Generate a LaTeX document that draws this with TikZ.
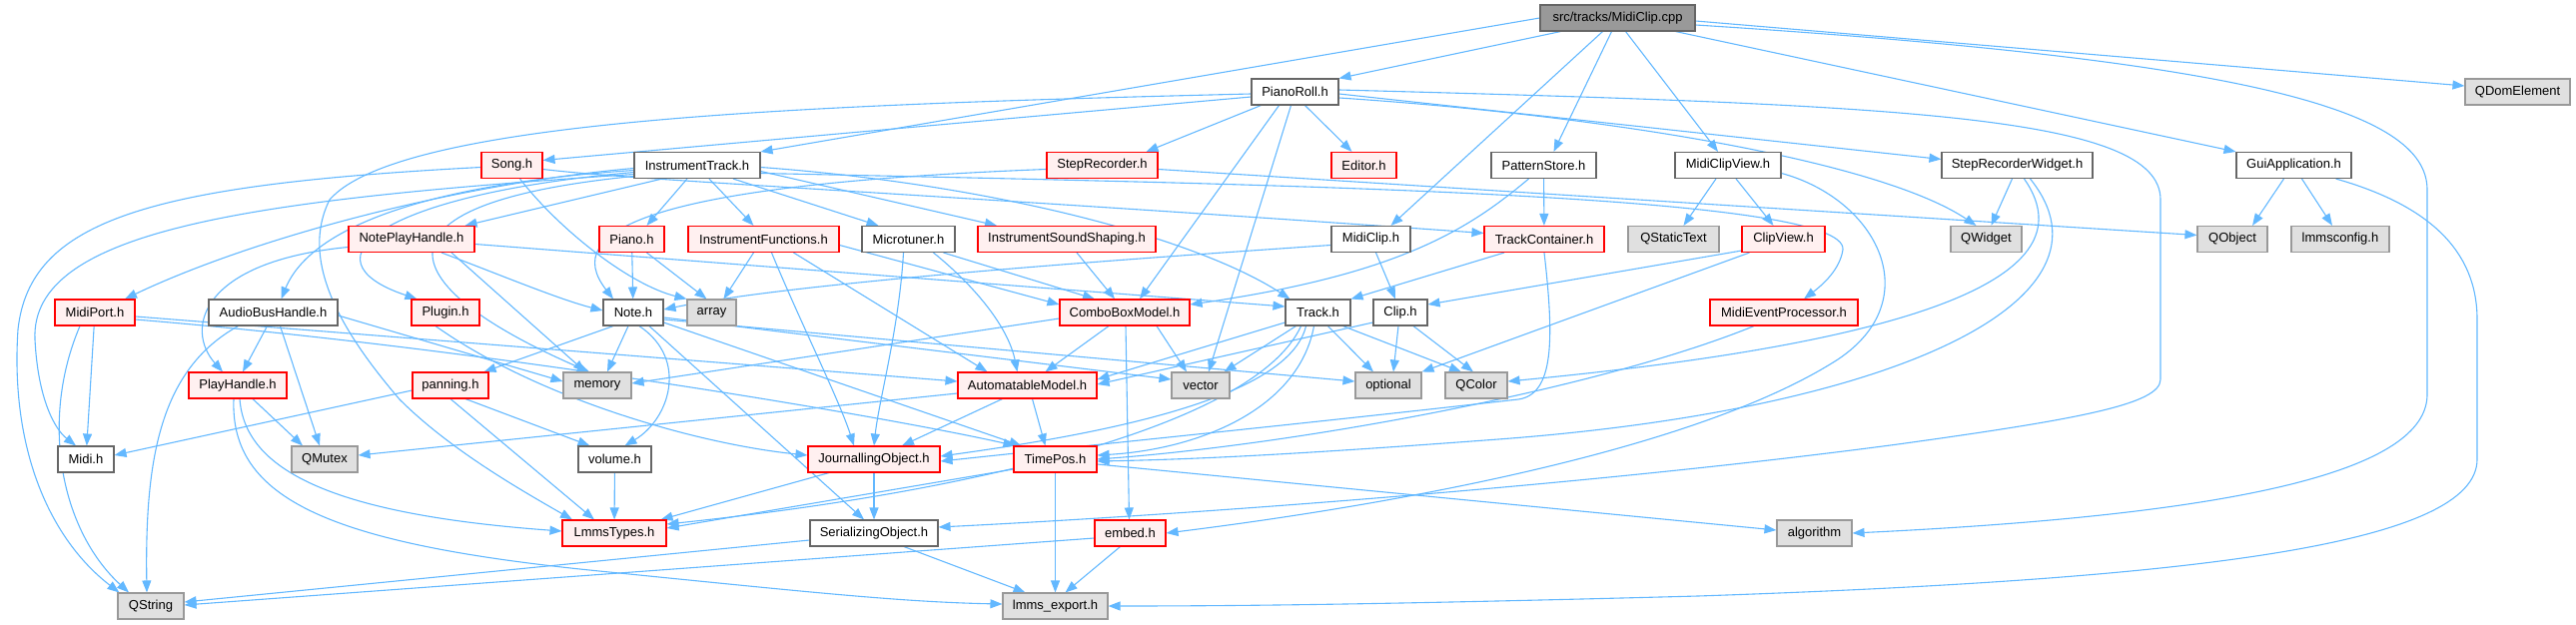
\documentclass[tikz,border=0pt]{standalone}
\usepackage{fontspec}
\setmainfont{Liberation Sans}
\usetikzlibrary{arrows.meta,calc}
\definecolor{edgec}{HTML}{63B8FF}
\definecolor{redfill}{HTML}{FFF0F0}
\definecolor{grayfill}{HTML}{E0E0E0}
\definecolor{grayline}{HTML}{999999}
\definecolor{darkline}{HTML}{666666}
\definecolor{rootfill}{HTML}{999999}
\pgfdeclarelayer{bg}
\pgfsetlayers{bg,main}
\newcommand\nd[6]{\node[#2, minimum width={#4-#3}] (#1) at ({(#3+#4)/2},{-#5}) {#6};}
\begin{document}
\begin{tikzpicture}[x=1pt,y=1pt,
  box/.style={rectangle, inner sep=0pt, minimum height=26pt, line width=1.1pt, font=\fontsize{13}{15}\selectfont, text=black},
  wn/.style={box, draw=darkline, fill=white},
  rn/.style={box, draw=red, fill=redfill},
  gn/.style={box, draw=grayline, fill=grayfill},
  rootn/.style={box, draw=darkline, fill=rootfill},
  e/.style={draw=edgec, line width=1.1pt, -{Triangle[length=12pt,width=9pt]}}]
\useasboundingbox (0,0) rectangle (2579,-626);
% row 0
\nd{cpp}{rootn}{1542}{1697}{18}{src/tracks/MidiClip.cpp}
% row 1
\nd{piano}{wn}{1253}{1340}{92}{PianoRoll.h}
\nd{qdom}{gn}{2468}{2573}{92}{QDomElement}
% row 2
\nd{song}{rn}{482}{543}{165.5}{Song.h}
\nd{itrack}{wn}{635}{761}{165.5}{InstrumentTrack.h}
\nd{steprec}{rn}{1048}{1159}{165.5}{StepRecorder.h}
\nd{editor}{rn}{1333}{1398}{165.5}{Editor.h}
\nd{pstore}{wn}{1493}{1598}{165.5}{PatternStore.h}
\nd{mcview}{wn}{1677}{1783}{165.5}{MidiClipView.h}
\nd{srw}{wn}{1944}{2095}{165.5}{StepRecorderWidget.h}
\nd{gui}{wn}{2239}{2354}{165.5}{GuiApplication.h}
% row 3
\nd{nph}{rn}{349}{475}{239.5}{NotePlayHandle.h}
\nd{pianoh}{rn}{600}{665}{239.5}{Piano.h}
\nd{ifunc}{rn}{689}{840}{239.5}{InstrumentFunctions.h}
\nd{micro}{wn}{863}{956}{239.5}{Microtuner.h}
\nd{iss}{rn}{979}{1157}{239.5}{InstrumentSoundShaping.h}
\nd{mclip}{wn}{1333}{1412}{239.5}{MidiClip.h}
\nd{tcont}{rn}{1486}{1606}{239.5}{TrackContainer.h}
\nd{qstatic}{gn}{1630}{1721}{239.5}{QStaticText}
\nd{cview}{rn}{1744}{1827}{239.5}{ClipView.h}
\nd{qwidget}{gn}{1953}{2024}{239.5}{QWidget}
\nd{qobject}{gn}{2200}{2270}{239.5}{QObject}
\nd{lcfg}{gn}{2294}{2392}{239.5}{lmmsconfig.h}
% row 4
\nd{mport}{rn}{55}{135}{313}{MidiPort.h}
\nd{abh}{wn}{209}{338}{313}{AudioBusHandle.h}
\nd{plugin}{rn}{412}{480}{313}{Plugin.h}
\nd{note}{wn}{604}{664}{313}{Note.h}
\nd{array}{gn}{688}{737}{313}{array}
\nd{cbm}{rn}{1061}{1191}{313}{ComboBoxModel.h}
\nd{track}{wn}{1287}{1352}{313}{Track.h}
\nd{clip}{wn}{1375}{1429}{313}{Clip.h}
\nd{mep}{rn}{1712}{1860}{313}{MidiEventProcessor.h}
% row 5
\nd{phandle}{rn}{189}{287}{386}{PlayHandle.h}
\nd{panning}{rn}{413}{489}{386}{panning.h}
\nd{memory}{gn}{564}{632}{386}{memory}
\nd{amodel}{rn}{959}{1098}{386}{AutomatableModel.h}
\nd{vector}{gn}{1173}{1231}{386}{vector}
\nd{optional}{gn}{1357}{1423}{386}{optional}
\nd{qcolor}{gn}{1447}{1509}{386}{QColor}
% row 6
\nd{midi}{wn}{58}{114}{460}{Midi.h}
\nd{qmutex}{gn}{292}{358}{460}{QMutex}
\nd{volume}{wn}{579}{652}{460}{volume.h}
\nd{jobj}{rn}{809}{941}{460}{JournallingObject.h}
\nd{timepos}{rn}{1015}{1098}{460}{TimePos.h}
% row 7
\nd{ltypes}{rn}{563}{667}{534}{LmmsTypes.h}
\nd{sobj}{wn}{811}{939}{534}{SerializingObject.h}
\nd{embed}{rn}{1096}{1167}{534}{embed.h}
\nd{algo}{gn}{1779}{1854}{534}{algorithm}
% row 8
\nd{qstring}{gn}{118}{184}{607}{QString}
\nd{lexport}{gn}{1004}{1109}{607}{lmms\_export.h}

\begin{pgfonlayer}{bg}
% root
\draw[e] ([xshift=-57pt]cpp.south) -- (piano.north east);
\draw[e] (cpp.west) -- (itrack.north east);
\draw[e] ([xshift=-15pt]cpp.south) -- ([xshift=20pt]mclip.north);
\draw[e] ([xshift=-6pt]cpp.south) -- ([xshift=10pt]pstore.north);
\draw[e] ([xshift=8pt]cpp.south) -- ([xshift=-10pt]mcview.north);
\draw[e] ([xshift=-20pt]cpp.south east) -- (gui.north west);
\draw[e] ([yshift=-3pt]cpp.east) -- ([yshift=6pt]qdom.west);
\draw[e] ([yshift=-7pt]cpp.east) .. controls (2250,-60) and (2430,-110) .. (2430,-190) -- (2430,-395) .. controls (2430,-470) and (2250,-515) .. (algo.east);
% PianoRoll
\draw[e] ([yshift=-5pt]piano.west) -- ([yshift=5pt]song.east);
\draw[e] ([xshift=10pt]piano.south west) -- ([xshift=-12pt]steprec.north east);
\draw[e] ([xshift=10pt]piano.south) -- ([xshift=-12pt]editor.north);
\draw[e] ([xshift=-16pt]piano.south) -- ([xshift=15pt]cbm.north);
\draw[e] ([xshift=-4pt]piano.south) -- ([xshift=8pt]vector.north);
\draw[e] ([yshift=-2pt]piano.east) -- ([yshift=6pt]srw.west);
\draw[e] ([yshift=-6pt]piano.east) .. controls (1600,-115) and (1880,-160) .. ([xshift=-10pt]qwidget.north);
\draw[e] ([yshift=2pt]piano.east) .. controls (1900,-105) and (2163,-115) .. (2163,-200) -- (2163,-380) .. controls (2163,-405) and (2080,-420) .. (1900,-445) .. controls (1600,-485) and (1200,-515) .. ([yshift=6pt]sobj.east);
\draw[e] ([yshift=-2pt]piano.west) .. controls (800,-105) and (400,-120) .. (330,-200) .. controls (300,-260) and (340,-330) .. (400,-400) .. controls (450,-450) and (520,-490) .. ([xshift=-42pt]ltypes.north);
% Song
\draw[e] ([yshift=-4pt]song.east) .. controls (640,-181) and (900,-192) .. ([yshift=6pt]tcont.west);
\draw[e] ([xshift=8pt]song.south) .. controls (560,-230) and (630,-285) .. (array.north west);
\draw[e] ([yshift=-2pt]song.west) .. controls (150,-185) and (30,-220) .. (18,-330) .. controls (10,-450) and (50,-540) .. ([xshift=2pt]qstring.north west);
% InstrumentTrack
\draw[e] ([xshift=-35pt]itrack.south) -- ([xshift=-10pt]nph.north east);
\draw[e] ([xshift=-10pt]itrack.south) -- ([xshift=15pt]pianoh.north);
\draw[e] ([xshift=12pt]itrack.south) -- ([xshift=-10pt]ifunc.north);
\draw[e] ([xshift=36pt]itrack.south) -- ([xshift=-30pt]micro.north);
\draw[e] ([yshift=-6pt]itrack.east) -- ([xshift=-70pt]iss.north);
\draw[e] ([yshift=-3pt]itrack.west) .. controls (450,-185) and (250,-240) .. ([xshift=30pt]mport.north);
\draw[e] ([yshift=-5pt]itrack.west) .. controls (420,-185) and (310,-230) .. ([xshift=8pt]abh.north);
\draw[e] ([yshift=-7pt]itrack.west) .. controls (380,-195) and (300,-260) .. ([xshift=6pt]plugin.north west);
\draw[e] ([yshift=-9pt]itrack.west) .. controls (250,-200) and (30,-230) .. (35,-340) .. controls (38,-400) and (55,-430) .. ([xshift=-10pt]midi.north);
\draw[e] ([yshift=-11pt]itrack.west) .. controls (350,-205) and (400,-290) .. ([xshift=-8pt]memory.north);
\draw[e] ([yshift=-2pt]itrack.east) .. controls (1000,-185) and (1200,-240) .. ([xshift=5pt]track.north west);
\draw[e] ([yshift=-8pt]itrack.east) .. controls (1300,-185) and (1850,-195) .. (1845,-250) .. controls (1842,-270) and (1825,-285) .. ([xshift=20pt]mep.north);
% StepRecorder
\draw[e] ([yshift=-4pt]steprec.west) .. controls (650,-185) and (560,-230) .. ([xshift=-20pt]note.north);
\draw[e] ([yshift=-4pt]steprec.east) -- ([yshift=4pt]qobject.west);
% PatternStore
\draw[e] (pstore) -- (tcont);
\draw[e] ([xshift=-15pt]pstore.south) .. controls (1470,-230) and (1400,-275) .. ([yshift=8pt]cbm.east);
% MidiClipView
\draw[e] ([xshift=-12pt]mcview.south) -- ([xshift=10pt]qstatic.north);
\draw[e] ([xshift=8pt]mcview.south) -- ([xshift=-10pt]cview.north);
\draw[e] ([yshift=-8pt]mcview.east) .. controls (1880,-200) and (1930,-300) .. (1840,-360) .. controls (1700,-450) and (1400,-505) .. (embed.east);
% StepRecorderWidget
\draw[e] ([xshift=-5pt]srw.south) -- ([xshift=5pt]qwidget.north);
\draw[e] ([xshift=7pt]srw.south) .. controls (2090,-270) and (1950,-340) .. ([yshift=4pt]qcolor.east);
\draw[e] ([xshift=13pt]srw.south) .. controls (2130,-300) and (1900,-410) .. (1500,-440) .. controls (1300,-455) and (1200,-460) .. ([yshift=-2pt]timepos.east);
% GuiApplication
\draw[e] ([xshift=-10pt]gui.south) -- ([xshift=20pt]qobject.north);
\draw[e] ([xshift=8pt]gui.south) -- ([xshift=-8pt]lcfg.north);
\draw[e] ([xshift=-16pt]gui.south east) .. controls (2430,-205) and (2480,-250) .. (2480,-320) -- (2480,-460) .. controls (2480,-545) and (2200,-580) .. (1700,-597) .. controls (1400,-605) and (1250,-607) .. (lexport.east);
% NotePlayHandle
\draw[e] ([xshift=30pt]nph.south) .. controls (500,-275) and (560,-300) .. ([yshift=2pt]note.west);
\draw[e] ([yshift=-8pt]nph.west) .. controls (200,-262) and (185,-330) .. ([xshift=-15pt]phandle.north);
\draw[e] ([xshift=40pt]nph.south) -- ([xshift=-12pt]memory.north);
\draw[e] ([yshift=-5pt]nph.east) -- ([yshift=6pt]track.west);
% Piano.h
\draw[e] (pianoh) -- (note);
\draw[e] ([xshift=15pt]pianoh.south) -- ([xshift=-5pt]array.north);
% InstrumentFunctions
\draw[e] ([xshift=-10pt]ifunc.south) -- ([xshift=12pt]array.north);
\draw[e] ([xshift=8pt]ifunc.south) .. controls (800,-320) and (840,-400) .. ([xshift=-20pt]jobj.north);
\draw[e] ([xshift=30pt]ifunc.south) -- ([xshift=-40pt]amodel.north);
\draw[e] ([yshift=-6pt]ifunc.east) -- ([yshift=8pt]cbm.west);
% Microtuner
\draw[e] ([xshift=-5pt]micro.south) .. controls (900,-330) and (880,-400) .. (jobj.north);
\draw[e] ([xshift=25pt]micro.south) .. controls (980,-290) and (1010,-330) .. ([xshift=-10pt]amodel.north);
\draw[e] ([xshift=35pt]micro.south) -- ([xshift=-30pt]cbm.north);
% InstrumentSoundShaping
\draw[e] ([xshift=10pt]iss.south) -- ([xshift=-10pt]cbm.north);
% MidiClip.h
\draw[e] ([xshift=5pt]mclip.south) -- ([xshift=-5pt]clip.north);
\draw[e] ([yshift=-6pt]mclip.west) .. controls (1150,-258) and (800,-282) .. ([yshift=3pt]note.east);
% TrackContainer
\draw[e] ([xshift=-40pt]tcont.south) -- (track.north east);
\draw[e] (tcont.south) .. controls (1556,-340) and (1556,-395) .. (1520,-400) .. controls (1300,-425) and (1100,-445) .. ([yshift=-2pt]jobj.east);
% ClipView
\draw[e] ([yshift=2pt]cview.south west) -- ([yshift=8pt]clip.east);
\draw[e] ([xshift=8pt]cview.south west) -- (optional.north east);
% MidiPort
\draw[e] (mport) -- (midi);
\draw[e] ([xshift=-15pt]mport.south) .. controls (40,-420) and (60,-530) .. ([xshift=-22pt]qstring.north);
\draw[e] ([yshift=-4pt]mport.east) -- ([yshift=4pt]amodel.west);
\draw[e] ([yshift=-7pt]mport.east) .. controls (500,-350) and (900,-420) .. ([xshift=2pt]timepos.north west);
% AudioBusHandle
\draw[e] ([xshift=-6pt]abh.south) -- ([xshift=5pt]phandle.north);
\draw[e] ([xshift=7pt]abh.south) -- ([xshift=-5pt]qmutex.north);
\draw[e] ([xshift=-35pt]abh.south) .. controls (160,-370) and (145,-460) .. ([xshift=-4pt]qstring.north);
\draw[e] ([yshift=-3pt]abh.east) -- ([yshift=4pt]memory.west);
% Plugin
\draw[e] ([xshift=-10pt]plugin.south) .. controls (540,-400) and (700,-445) .. ([yshift=4pt]jobj.west);
% Note
\draw[e] ([xshift=-20pt]note.south) -- ([xshift=-5pt]panning.north east);
\draw[e] ([xshift=-5pt]note.south) -- ([xshift=10pt]memory.north);
\draw[e] ([xshift=6pt]note.south) .. controls (690,-360) and (670,-420) .. ([xshift=10pt]volume.north);
\draw[e] ([xshift=16pt]note.south) -- ([xshift=-10pt]sobj.north);
\draw[e] ([yshift=-5pt]note.east) -- ([yshift=6pt]vector.west);
\draw[e] ([yshift=-7pt]note.east) -- ([yshift=4pt]optional.west);
\draw[e] ([yshift=-10pt]note.east) -- ([xshift=8pt]timepos.north west);
% panning
\draw[e] ([xshift=15pt]panning.south) -- ([xshift=-25pt]volume.north);
\draw[e] (panning.south) -- ([xshift=-20pt]ltypes.north);
\draw[e] ([yshift=-5pt]panning.west) -- ([yshift=4pt]midi.east);
% PlayHandle
\draw[e] ([xshift=15pt]phandle.south) -- ([xshift=-22pt]qmutex.north);
\draw[e] ([xshift=2pt]phandle.south) .. controls (245,-470) and (330,-515) .. ([yshift=2pt]ltypes.west);
\draw[e] ([xshift=-4pt]phandle.south) .. controls (230,-500) and (330,-545) .. (600,-572) .. controls (800,-592) and (900,-603) .. ([yshift=2pt]lexport.west);
% AutomatableModel
\draw[e] ([xshift=-25pt]amodel.south) -- ([xshift=28pt]jobj.north);
\draw[e] ([xshift=5pt]amodel.south) -- ([xshift=-10pt]timepos.north);
\draw[e] ([yshift=-8pt]amodel.west) -- ([yshift=4pt]qmutex.east);
% Track
\draw[e] ([yshift=-10pt]track.west) -- ([yshift=6pt]amodel.east);
\draw[e] ([xshift=-22pt]track.south) -- ([xshift=-6pt]vector.north east);
\draw[e] ([xshift=-12pt]track.south) .. controls (1290,-400) and (1100,-435) .. ([yshift=3pt]jobj.east);
\draw[e] ([xshift=-4pt]track.south) .. controls (1300,-410) and (1200,-450) .. ([yshift=4pt]timepos.east);
\draw[e] ([xshift=-17pt]track.south) .. controls (1260,-420) and (1000,-490) .. ([yshift=9pt]ltypes.east);
\draw[e] ([xshift=10pt]track.south) -- ([xshift=-15pt]optional.north);
\draw[e] ([xshift=25pt]track.south) -- ([xshift=-15pt]qcolor.north);
% Clip
\draw[e] ([xshift=-2pt]clip.south) -- ([xshift=5pt]optional.north);
\draw[e] ([xshift=13pt]clip.south) -- ([xshift=-3pt]qcolor.north);
\draw[e] ([yshift=-10pt]clip.west) -- ([yshift=1pt]amodel.east);
% ComboBoxModel
\draw[e] ([xshift=-16pt]cbm.south) -- ([xshift=18pt]amodel.north);
\draw[e] ([xshift=32pt]cbm.south) -- ([xshift=-14pt]vector.north);
\draw[e] ([xshift=1pt]cbm.south) -- ([xshift=-1pt]embed.north);
\draw[e] ([yshift=-6pt]cbm.west) -- ([yshift=2pt]memory.east);
% MidiEventProcessor
\draw[e] ([xshift=-30pt]mep.south) .. controls (1600,-390) and (1300,-445) .. (timepos.east);
% JournallingObject
\draw[e] ([xshift=-45pt]jobj.south) -- ([xshift=-6pt]ltypes.north east);
\draw[e] (jobj) -- (sobj);
% TimePos
\draw[e] (timepos) -- (lexport);
\draw[e] ([yshift=-10pt]timepos.west) -- ([yshift=5pt]ltypes.east);
\draw[e] ([yshift=-5pt]timepos.east) -- ([yshift=3pt]algo.west);
% volume
\draw[e] (volume) -- (ltypes);
% SerializingObject
\draw[e] ([xshift=30pt]sobj.south) -- ([xshift=-30pt]lexport.north);
\draw[e] ([yshift=-7pt]sobj.west) -- ([yshift=4pt]qstring.east);
% embed
\draw[e] ([xshift=-10pt]embed.south) -- ([xshift=10pt]lexport.north);
\draw[e] ([yshift=-5pt]embed.west) -- ([yshift=1pt]qstring.east);
\end{pgfonlayer}
\end{tikzpicture}
\end{document}
